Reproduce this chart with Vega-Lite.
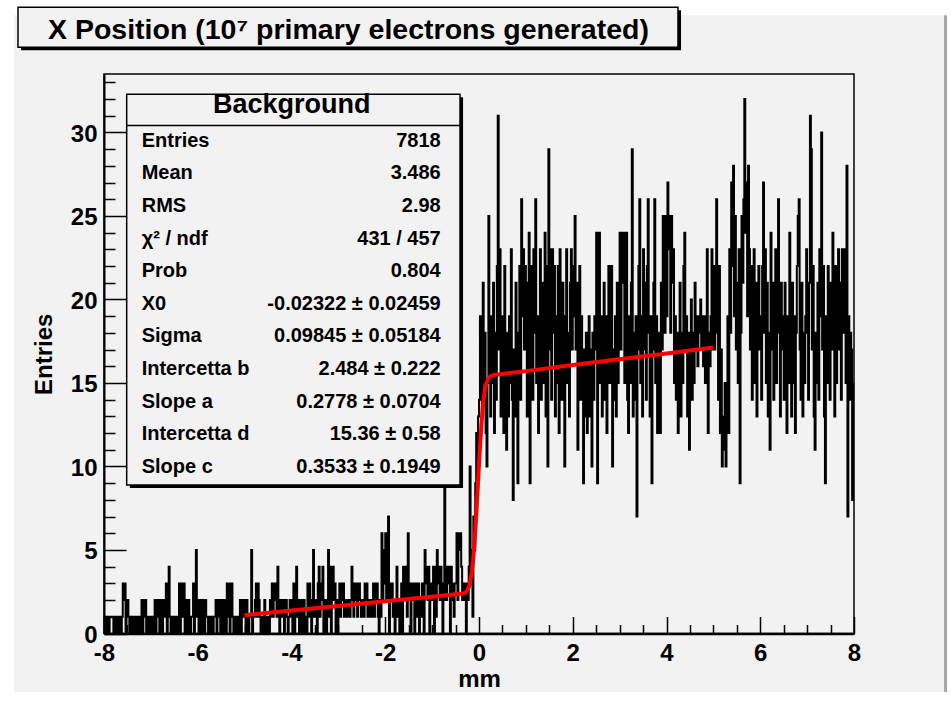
{
"$schema": "https://vega.github.io/schema/vega-lite/v6.json",
"width": 750, "height": 559.5, "autosize": "none",
"padding": {"left": 104, "top": 74, "right": 97, "bottom": 67.5},
"background": "#f2f2f2",
"config": {"view": {"stroke": "#000", "strokeWidth": 1.5, "fill": "#f2f2f2"}, "axis": {"grid": false, "labelFont": "Liberation Sans", "titleFont": "Liberation Sans", "labelColor": "#000", "titleColor": "#000", "tickColor": "#000", "domainColor": "#000"}, "text": {"font": "Liberation Sans"}},
"datasets": {
"hist": [
{"x":-7.99,"y":1},{"x":-7.97,"y":0},{"x":-7.95,"y":1},{"x":-7.93,"y":0},{"x":-7.91,"y":1},{"x":-7.89,"y":0},{"x":-7.87,"y":1},{"x":-7.85,"y":1},{"x":-7.83,"y":1},{"x":-7.81,"y":1},{"x":-7.79,"y":0},{"x":-7.77,"y":1},{"x":-7.75,"y":0},{"x":-7.73,"y":1},{"x":-7.71,"y":0},{"x":-7.69,"y":1},{"x":-7.67,"y":0},{"x":-7.65,"y":1},{"x":-7.63,"y":0},{"x":-7.61,"y":1},{"x":-7.59,"y":3},{"x":-7.57,"y":2},{"x":-7.55,"y":3},{"x":-7.53,"y":0},{"x":-7.51,"y":2},
{"x":-7.49,"y":2},{"x":-7.47,"y":1},{"x":-7.45,"y":0},{"x":-7.43,"y":1},{"x":-7.41,"y":0},{"x":-7.39,"y":1},{"x":-7.37,"y":1},{"x":-7.35,"y":0},{"x":-7.33,"y":1},{"x":-7.31,"y":0},{"x":-7.29,"y":1},{"x":-7.27,"y":0},{"x":-7.25,"y":1},{"x":-7.23,"y":1},{"x":-7.21,"y":0},{"x":-7.19,"y":2},{"x":-7.17,"y":0},{"x":-7.15,"y":2},{"x":-7.13,"y":1},{"x":-7.11,"y":2},{"x":-7.09,"y":0},{"x":-7.07,"y":1},{"x":-7.05,"y":0},{"x":-7.03,"y":1},{"x":-7.01,"y":1},
{"x":-6.99,"y":0},{"x":-6.97,"y":1},{"x":-6.95,"y":0},{"x":-6.93,"y":1},{"x":-6.91,"y":2},{"x":-6.89,"y":0},{"x":-6.87,"y":2},{"x":-6.85,"y":1},{"x":-6.83,"y":2},{"x":-6.81,"y":0},{"x":-6.79,"y":1},{"x":-6.77,"y":2},{"x":-6.75,"y":0},{"x":-6.73,"y":2},{"x":-6.71,"y":1},{"x":-6.69,"y":2},{"x":-6.67,"y":3},{"x":-6.65,"y":0},{"x":-6.63,"y":2},{"x":-6.61,"y":4},{"x":-6.59,"y":1},{"x":-6.57,"y":0},{"x":-6.55,"y":1},{"x":-6.53,"y":0},{"x":-6.51,"y":1},
{"x":-6.49,"y":1},{"x":-6.47,"y":0},{"x":-6.45,"y":1},{"x":-6.43,"y":0},{"x":-6.41,"y":1},{"x":-6.39,"y":3},{"x":-6.37,"y":0},{"x":-6.35,"y":2},{"x":-6.33,"y":3},{"x":-6.31,"y":1},{"x":-6.29,"y":3},{"x":-6.27,"y":0},{"x":-6.25,"y":2},{"x":-6.23,"y":1},{"x":-6.21,"y":0},{"x":-6.19,"y":2},{"x":-6.17,"y":1},{"x":-6.15,"y":0},{"x":-6.13,"y":1},{"x":-6.11,"y":1},{"x":-6.09,"y":3},{"x":-6.07,"y":0},{"x":-6.05,"y":2},{"x":-6.03,"y":5},{"x":-6.01,"y":1},
{"x":-5.99,"y":2},{"x":-5.97,"y":0},{"x":-5.95,"y":1},{"x":-5.93,"y":2},{"x":-5.91,"y":0},{"x":-5.89,"y":2},{"x":-5.87,"y":1},{"x":-5.85,"y":0},{"x":-5.83,"y":2},{"x":-5.81,"y":1},{"x":-5.79,"y":1},{"x":-5.77,"y":0},{"x":-5.75,"y":1},{"x":-5.73,"y":0},{"x":-5.71,"y":1},{"x":-5.69,"y":1},{"x":-5.67,"y":0},{"x":-5.65,"y":1},{"x":-5.63,"y":1},{"x":-5.61,"y":2},{"x":-5.59,"y":0},{"x":-5.57,"y":2},{"x":-5.55,"y":1},{"x":-5.53,"y":2},{"x":-5.51,"y":0},
{"x":-5.49,"y":2},{"x":-5.47,"y":1},{"x":-5.45,"y":0},{"x":-5.43,"y":2},{"x":-5.41,"y":1},{"x":-5.39,"y":0},{"x":-5.37,"y":3},{"x":-5.35,"y":1},{"x":-5.33,"y":3},{"x":-5.31,"y":0},{"x":-5.29,"y":2},{"x":-5.27,"y":3},{"x":-5.25,"y":1},{"x":-5.23,"y":0},{"x":-5.21,"y":1},{"x":-5.19,"y":1},{"x":-5.17,"y":0},{"x":-5.15,"y":1},{"x":-5.13,"y":0},{"x":-5.11,"y":1},{"x":-5.09,"y":2},{"x":-5.07,"y":0},{"x":-5.05,"y":2},{"x":-5.03,"y":1},{"x":-5.01,"y":2},
{"x":-4.99,"y":1},{"x":-4.97,"y":0},{"x":-4.95,"y":2},{"x":-4.93,"y":1},{"x":-4.91,"y":0},{"x":-4.89,"y":1},{"x":-4.87,"y":1},{"x":-4.85,"y":5},{"x":-4.83,"y":0},{"x":-4.81,"y":1},{"x":-4.79,"y":1},{"x":-4.77,"y":2},{"x":-4.75,"y":3},{"x":-4.73,"y":1},{"x":-4.71,"y":3},{"x":-4.69,"y":2},{"x":-4.67,"y":1},{"x":-4.65,"y":0},{"x":-4.63,"y":1},{"x":-4.61,"y":1},{"x":-4.59,"y":0},{"x":-4.57,"y":2},{"x":-4.55,"y":1},{"x":-4.53,"y":0},{"x":-4.51,"y":1},
{"x":-4.49,"y":1},{"x":-4.47,"y":0},{"x":-4.45,"y":2},{"x":-4.43,"y":1},{"x":-4.41,"y":3},{"x":-4.39,"y":1},{"x":-4.37,"y":3},{"x":-4.35,"y":2},{"x":-4.33,"y":3},{"x":-4.31,"y":1},{"x":-4.29,"y":4},{"x":-4.27,"y":2},{"x":-4.25,"y":0},{"x":-4.23,"y":1},{"x":-4.21,"y":2},{"x":-4.19,"y":1},{"x":-4.17,"y":2},{"x":-4.15,"y":0},{"x":-4.13,"y":2},{"x":-4.11,"y":2},{"x":-4.09,"y":1},{"x":-4.07,"y":0},{"x":-4.05,"y":1},{"x":-4.03,"y":2},{"x":-4.01,"y":1},
{"x":-3.99,"y":2},{"x":-3.97,"y":0},{"x":-3.95,"y":3},{"x":-3.93,"y":0},{"x":-3.91,"y":2},{"x":-3.89,"y":4},{"x":-3.87,"y":1},{"x":-3.85,"y":2},{"x":-3.83,"y":0},{"x":-3.81,"y":1},{"x":-3.79,"y":2},{"x":-3.77,"y":0},{"x":-3.75,"y":1},{"x":-3.73,"y":2},{"x":-3.71,"y":0},{"x":-3.69,"y":1},{"x":-3.67,"y":0},{"x":-3.65,"y":3},{"x":-3.63,"y":1},{"x":-3.61,"y":3},{"x":-3.59,"y":2},{"x":-3.57,"y":0},{"x":-3.55,"y":2},{"x":-3.53,"y":5},{"x":-3.51,"y":1},
{"x":-3.49,"y":1},{"x":-3.47,"y":2},{"x":-3.45,"y":0},{"x":-3.43,"y":3},{"x":-3.41,"y":4},{"x":-3.39,"y":1},{"x":-3.37,"y":3},{"x":-3.35,"y":2},{"x":-3.33,"y":4},{"x":-3.31,"y":0},{"x":-3.29,"y":1},{"x":-3.27,"y":2},{"x":-3.25,"y":0},{"x":-3.23,"y":2},{"x":-3.21,"y":5},{"x":-3.19,"y":1},{"x":-3.17,"y":4},{"x":-3.15,"y":0},{"x":-3.13,"y":3},{"x":-3.11,"y":4},{"x":-3.09,"y":2},{"x":-3.07,"y":3},{"x":-3.05,"y":0},{"x":-3.03,"y":2},{"x":-3.01,"y":0},
{"x":-2.99,"y":2},{"x":-2.97,"y":3},{"x":-2.95,"y":1},{"x":-2.93,"y":3},{"x":-2.91,"y":2},{"x":-2.89,"y":3},{"x":-2.87,"y":1},{"x":-2.85,"y":2},{"x":-2.83,"y":1},{"x":-2.81,"y":2},{"x":-2.79,"y":1},{"x":-2.77,"y":2},{"x":-2.75,"y":1},{"x":-2.73,"y":2},{"x":-2.71,"y":4},{"x":-2.69,"y":2},{"x":-2.67,"y":1},{"x":-2.65,"y":3},{"x":-2.63,"y":2},{"x":-2.61,"y":3},{"x":-2.59,"y":1},{"x":-2.57,"y":2},{"x":-2.55,"y":3},{"x":-2.53,"y":2},{"x":-2.51,"y":1},
{"x":-2.49,"y":1},{"x":-2.47,"y":2},{"x":-2.45,"y":1},{"x":-2.43,"y":3},{"x":-2.41,"y":2},{"x":-2.39,"y":3},{"x":-2.37,"y":1},{"x":-2.35,"y":2},{"x":-2.33,"y":2},{"x":-2.31,"y":1},{"x":-2.29,"y":2},{"x":-2.27,"y":1},{"x":-2.25,"y":3},{"x":-2.23,"y":1},{"x":-2.21,"y":3},{"x":-2.19,"y":2},{"x":-2.17,"y":3},{"x":-2.15,"y":1},{"x":-2.13,"y":0},{"x":-2.11,"y":2},{"x":-2.09,"y":1},{"x":-2.07,"y":6},{"x":-2.05,"y":2},{"x":-2.03,"y":5},{"x":-2.01,"y":3},
{"x":-1.99,"y":6},{"x":-1.97,"y":2},{"x":-1.95,"y":4},{"x":-1.93,"y":7},{"x":-1.91,"y":0},{"x":-1.89,"y":3},{"x":-1.87,"y":2},{"x":-1.85,"y":3},{"x":-1.83,"y":1},{"x":-1.81,"y":2},{"x":-1.79,"y":0},{"x":-1.77,"y":2},{"x":-1.75,"y":4},{"x":-1.73,"y":1},{"x":-1.71,"y":2},{"x":-1.69,"y":0},{"x":-1.67,"y":2},{"x":-1.65,"y":3},{"x":-1.63,"y":0},{"x":-1.61,"y":4},{"x":-1.59,"y":2},{"x":-1.57,"y":3},{"x":-1.55,"y":4},{"x":-1.53,"y":1},{"x":-1.51,"y":6},
{"x":-1.49,"y":2},{"x":-1.47,"y":3},{"x":-1.45,"y":0},{"x":-1.43,"y":2},{"x":-1.41,"y":3},{"x":-1.39,"y":2},{"x":-1.37,"y":0},{"x":-1.35,"y":3},{"x":-1.33,"y":2},{"x":-1.31,"y":1},{"x":-1.29,"y":3},{"x":-1.27,"y":0},{"x":-1.25,"y":1},{"x":-1.23,"y":2},{"x":-1.21,"y":3},{"x":-1.19,"y":1},{"x":-1.17,"y":0},{"x":-1.15,"y":5},{"x":-1.13,"y":3},{"x":-1.11,"y":4},{"x":-1.09,"y":2},{"x":-1.07,"y":4},{"x":-1.05,"y":0},{"x":-1.03,"y":3},{"x":-1.01,"y":2},
{"x":-0.99,"y":3},{"x":-0.97,"y":4},{"x":-0.95,"y":0},{"x":-0.93,"y":4},{"x":-0.91,"y":1},{"x":-0.89,"y":5},{"x":-0.87,"y":3},{"x":-0.85,"y":4},{"x":-0.83,"y":2},{"x":-0.81,"y":4},{"x":-0.79,"y":3},{"x":-0.77,"y":0},{"x":-0.75,"y":2},{"x":-0.73,"y":9},{"x":-0.71,"y":3},{"x":-0.69,"y":2},{"x":-0.67,"y":4},{"x":-0.65,"y":3},{"x":-0.63,"y":4},{"x":-0.61,"y":0},{"x":-0.59,"y":4},{"x":-0.57,"y":2},{"x":-0.55,"y":3},{"x":-0.53,"y":1},{"x":-0.51,"y":3},
{"x":-0.49,"y":3},{"x":-0.47,"y":6},{"x":-0.45,"y":2},{"x":-0.43,"y":6},{"x":-0.41,"y":5},{"x":-0.39,"y":6},{"x":-0.37,"y":4},{"x":-0.35,"y":2},{"x":-0.33,"y":3},{"x":-0.31,"y":2},{"x":-0.29,"y":3},{"x":-0.27,"y":0},{"x":-0.25,"y":3},{"x":-0.23,"y":2},{"x":-0.21,"y":4},{"x":-0.19,"y":10},{"x":-0.17,"y":3},{"x":-0.15,"y":5},{"x":-0.13,"y":1},{"x":-0.11,"y":7},{"x":-0.09,"y":5},{"x":-0.07,"y":9},{"x":-0.05,"y":12},{"x":-0.03,"y":10},{"x":-0.01,"y":13},
{"x":0.01,"y":14},{"x":0.03,"y":19},{"x":0.05,"y":17},{"x":0.07,"y":13},{"x":0.09,"y":21},{"x":0.11,"y":15},{"x":0.13,"y":18},{"x":0.15,"y":12},{"x":0.17,"y":10},{"x":0.19,"y":15},{"x":0.21,"y":25},{"x":0.23,"y":17},{"x":0.25,"y":13},{"x":0.27,"y":19},{"x":0.29,"y":15},{"x":0.31,"y":21},{"x":0.33,"y":12},{"x":0.35,"y":18},{"x":0.37,"y":14},{"x":0.39,"y":22},{"x":0.41,"y":31},{"x":0.43,"y":17},{"x":0.45,"y":23},{"x":0.47,"y":13},{"x":0.49,"y":19},
{"x":0.51,"y":15},{"x":0.53,"y":12},{"x":0.55,"y":22},{"x":0.57,"y":14},{"x":0.59,"y":11},{"x":0.61,"y":18},{"x":0.63,"y":13},{"x":0.65,"y":19},{"x":0.67,"y":15},{"x":0.69,"y":23},{"x":0.71,"y":14},{"x":0.73,"y":8},{"x":0.75,"y":17},{"x":0.77,"y":13},{"x":0.79,"y":21},{"x":0.81,"y":15},{"x":0.83,"y":9},{"x":0.85,"y":18},{"x":0.87,"y":22},{"x":0.89,"y":14},{"x":0.91,"y":26},{"x":0.93,"y":19},{"x":0.95,"y":23},{"x":0.97,"y":17},{"x":0.99,"y":22},
{"x":1.01,"y":18},{"x":1.03,"y":13},{"x":1.05,"y":21},{"x":1.07,"y":24},{"x":1.09,"y":9},{"x":1.11,"y":17},{"x":1.13,"y":22},{"x":1.15,"y":14},{"x":1.17,"y":23},{"x":1.19,"y":18},{"x":1.21,"y":26},{"x":1.23,"y":15},{"x":1.25,"y":19},{"x":1.27,"y":12},{"x":1.29,"y":17},{"x":1.31,"y":23},{"x":1.33,"y":14},{"x":1.35,"y":21},{"x":1.37,"y":15},{"x":1.39,"y":18},{"x":1.41,"y":24},{"x":1.43,"y":13},{"x":1.45,"y":22},{"x":1.47,"y":10},{"x":1.49,"y":29},
{"x":1.51,"y":17},{"x":1.53,"y":23},{"x":1.55,"y":14},{"x":1.57,"y":23},{"x":1.59,"y":18},{"x":1.61,"y":22},{"x":1.63,"y":13},{"x":1.65,"y":19},{"x":1.67,"y":15},{"x":1.69,"y":22},{"x":1.71,"y":12},{"x":1.73,"y":23},{"x":1.75,"y":18},{"x":1.77,"y":14},{"x":1.79,"y":21},{"x":1.81,"y":17},{"x":1.83,"y":10},{"x":1.85,"y":19},{"x":1.87,"y":23},{"x":1.89,"y":15},{"x":1.91,"y":18},{"x":1.93,"y":13},{"x":1.95,"y":21},{"x":1.97,"y":23},{"x":1.99,"y":17},
{"x":2.01,"y":19},{"x":2.03,"y":22},{"x":2.05,"y":25},{"x":2.07,"y":17},{"x":2.09,"y":21},{"x":2.11,"y":11},{"x":2.13,"y":18},{"x":2.15,"y":22},{"x":2.17,"y":14},{"x":2.19,"y":19},{"x":2.21,"y":15},{"x":2.23,"y":9},{"x":2.25,"y":17},{"x":2.27,"y":13},{"x":2.29,"y":18},{"x":2.31,"y":12},{"x":2.33,"y":15},{"x":2.35,"y":19},{"x":2.37,"y":13},{"x":2.39,"y":17},{"x":2.41,"y":10},{"x":2.43,"y":18},{"x":2.45,"y":14},{"x":2.47,"y":19},{"x":2.49,"y":17},
{"x":2.51,"y":24},{"x":2.53,"y":9},{"x":2.55,"y":19},{"x":2.57,"y":24},{"x":2.59,"y":15},{"x":2.61,"y":19},{"x":2.63,"y":13},{"x":2.65,"y":18},{"x":2.67,"y":21},{"x":2.69,"y":14},{"x":2.71,"y":19},{"x":2.73,"y":12},{"x":2.75,"y":17},{"x":2.77,"y":22},{"x":2.79,"y":15},{"x":2.81,"y":18},{"x":2.83,"y":22},{"x":2.85,"y":10},{"x":2.87,"y":17},{"x":2.89,"y":14},{"x":2.91,"y":19},{"x":2.93,"y":13},{"x":2.95,"y":21},{"x":2.97,"y":15},{"x":2.99,"y":18},
{"x":3.01,"y":24},{"x":3.03,"y":17},{"x":3.05,"y":24},{"x":3.07,"y":21},{"x":3.09,"y":24},{"x":3.11,"y":15},{"x":3.13,"y":23},{"x":3.15,"y":24},{"x":3.17,"y":14},{"x":3.19,"y":12},{"x":3.21,"y":19},{"x":3.23,"y":15},{"x":3.25,"y":21},{"x":3.27,"y":29},{"x":3.29,"y":13},{"x":3.31,"y":18},{"x":3.33,"y":14},{"x":3.35,"y":19},{"x":3.37,"y":7},{"x":3.39,"y":17},{"x":3.41,"y":22},{"x":3.43,"y":26},{"x":3.45,"y":15},{"x":3.47,"y":19},{"x":3.49,"y":13},
{"x":3.51,"y":23},{"x":3.53,"y":17},{"x":3.55,"y":21},{"x":3.57,"y":14},{"x":3.59,"y":22},{"x":3.61,"y":26},{"x":3.63,"y":18},{"x":3.65,"y":13},{"x":3.67,"y":19},{"x":3.69,"y":9},{"x":3.71,"y":17},{"x":3.73,"y":21},{"x":3.75,"y":26},{"x":3.77,"y":15},{"x":3.79,"y":19},{"x":3.81,"y":12},{"x":3.83,"y":18},{"x":3.85,"y":14},{"x":3.87,"y":12},{"x":3.89,"y":21},{"x":3.91,"y":17},{"x":3.93,"y":25},{"x":3.95,"y":22},{"x":3.97,"y":18},{"x":3.99,"y":25},
{"x":4.01,"y":19},{"x":4.03,"y":27},{"x":4.05,"y":23},{"x":4.07,"y":25},{"x":4.09,"y":18},{"x":4.11,"y":25},{"x":4.13,"y":21},{"x":4.15,"y":23},{"x":4.17,"y":15},{"x":4.19,"y":19},{"x":4.21,"y":14},{"x":4.23,"y":18},{"x":4.25,"y":12},{"x":4.27,"y":17},{"x":4.29,"y":21},{"x":4.31,"y":13},{"x":4.33,"y":18},{"x":4.35,"y":15},{"x":4.37,"y":22},{"x":4.39,"y":24},{"x":4.41,"y":17},{"x":4.43,"y":19},{"x":4.45,"y":13},{"x":4.47,"y":18},{"x":4.49,"y":11},
{"x":4.51,"y":16},{"x":4.53,"y":20},{"x":4.55,"y":14},{"x":4.57,"y":18},{"x":4.59,"y":15},{"x":4.61,"y":21},{"x":4.63,"y":17},{"x":4.65,"y":19},{"x":4.67,"y":16},{"x":4.69,"y":19},{"x":4.71,"y":18},{"x":4.73,"y":20},{"x":4.75,"y":17},{"x":4.77,"y":19},{"x":4.79,"y":16},{"x":4.81,"y":19},{"x":4.83,"y":15},{"x":4.85,"y":19},{"x":4.87,"y":23},{"x":4.89,"y":12},{"x":4.91,"y":18},{"x":4.93,"y":16},{"x":4.95,"y":19},{"x":4.97,"y":23},{"x":4.99,"y":17},
{"x":5.01,"y":22},{"x":5.03,"y":17},{"x":5.05,"y":21},{"x":5.07,"y":26},{"x":5.09,"y":18},{"x":5.11,"y":14},{"x":5.13,"y":22},{"x":5.15,"y":12},{"x":5.17,"y":17},{"x":5.19,"y":10},{"x":5.21,"y":13},{"x":5.23,"y":11},{"x":5.25,"y":15},{"x":5.27,"y":10},{"x":5.29,"y":14},{"x":5.31,"y":19},{"x":5.33,"y":12},{"x":5.35,"y":23},{"x":5.37,"y":18},{"x":5.39,"y":27},{"x":5.41,"y":22},{"x":5.43,"y":28},{"x":5.45,"y":19},{"x":5.47,"y":25},{"x":5.49,"y":17},
{"x":5.51,"y":21},{"x":5.53,"y":15},{"x":5.55,"y":23},{"x":5.57,"y":9},{"x":5.59,"y":18},{"x":5.61,"y":25},{"x":5.63,"y":21},{"x":5.65,"y":26},{"x":5.67,"y":32},{"x":5.69,"y":24},{"x":5.71,"y":27},{"x":5.73,"y":19},{"x":5.75,"y":28},{"x":5.77,"y":23},{"x":5.79,"y":17},{"x":5.81,"y":22},{"x":5.83,"y":14},{"x":5.85,"y":19},{"x":5.87,"y":23},{"x":5.89,"y":15},{"x":5.91,"y":21},{"x":5.93,"y":13},{"x":5.95,"y":18},{"x":5.97,"y":22},{"x":5.99,"y":17},
{"x":6.01,"y":19},{"x":6.03,"y":14},{"x":6.05,"y":22},{"x":6.07,"y":27},{"x":6.09,"y":18},{"x":6.11,"y":23},{"x":6.13,"y":15},{"x":6.15,"y":21},{"x":6.17,"y":13},{"x":6.19,"y":18},{"x":6.21,"y":11},{"x":6.23,"y":24},{"x":6.25,"y":17},{"x":6.27,"y":21},{"x":6.29,"y":14},{"x":6.31,"y":19},{"x":6.33,"y":23},{"x":6.35,"y":15},{"x":6.37,"y":22},{"x":6.39,"y":26},{"x":6.41,"y":18},{"x":6.43,"y":13},{"x":6.45,"y":21},{"x":6.47,"y":17},{"x":6.49,"y":19},
{"x":6.51,"y":14},{"x":6.53,"y":21},{"x":6.55,"y":17},{"x":6.57,"y":12},{"x":6.59,"y":19},{"x":6.61,"y":15},{"x":6.63,"y":24},{"x":6.65,"y":18},{"x":6.67,"y":13},{"x":6.69,"y":21},{"x":6.71,"y":15},{"x":6.73,"y":19},{"x":6.75,"y":12},{"x":6.77,"y":18},{"x":6.79,"y":22},{"x":6.81,"y":25},{"x":6.83,"y":26},{"x":6.85,"y":17},{"x":6.87,"y":14},{"x":6.89,"y":21},{"x":6.91,"y":13},{"x":6.93,"y":18},{"x":6.95,"y":15},{"x":6.97,"y":19},{"x":6.99,"y":23},
{"x":7.01,"y":18},{"x":7.03,"y":14},{"x":7.05,"y":21},{"x":7.07,"y":31},{"x":7.09,"y":29},{"x":7.11,"y":17},{"x":7.13,"y":22},{"x":7.15,"y":13},{"x":7.17,"y":11},{"x":7.19,"y":18},{"x":7.21,"y":15},{"x":7.23,"y":21},{"x":7.25,"y":14},{"x":7.27,"y":23},{"x":7.29,"y":19},{"x":7.31,"y":30},{"x":7.33,"y":17},{"x":7.35,"y":22},{"x":7.37,"y":13},{"x":7.39,"y":9},{"x":7.41,"y":19},{"x":7.43,"y":15},{"x":7.45,"y":22},{"x":7.47,"y":18},{"x":7.49,"y":14},
{"x":7.51,"y":21},{"x":7.53,"y":17},{"x":7.55,"y":24},{"x":7.57,"y":19},{"x":7.59,"y":13},{"x":7.61,"y":22},{"x":7.63,"y":15},{"x":7.65,"y":19},{"x":7.67,"y":23},{"x":7.69,"y":17},{"x":7.71,"y":21},{"x":7.73,"y":14},{"x":7.75,"y":23},{"x":7.77,"y":18},{"x":7.79,"y":22},{"x":7.81,"y":23},{"x":7.83,"y":15},{"x":7.85,"y":28},{"x":7.87,"y":7},{"x":7.89,"y":19},{"x":7.91,"y":14},{"x":7.93,"y":18},{"x":7.95,"y":17},{"x":7.97,"y":8},{"x":7.99,"y":15}
],
"fit": [
{"x":-5,"y":1.095},{"x":-4,"y":1.373},{"x":-3,"y":1.651},{"x":-2,"y":1.928},{"x":-1,"y":2.206},{"x":-0.5,"y":2.345},{"x":-0.35,"y":2.39},{"x":-0.3,"y":2.43},{"x":-0.25,"y":2.55},{"x":-0.2,"y":2.9},{"x":-0.15,"y":3.71},{"x":-0.125,"y":4.39},{"x":-0.1,"y":5.26},{"x":-0.075,"y":6.32},{"x":-0.05,"y":7.53},{"x":-0.025,"y":8.82},{"x":0,"y":10.12},{"x":0.025,"y":11.35},{"x":0.05,"y":12.43},{"x":0.075,"y":13.33},{"x":0.1,"y":14.04},{"x":0.125,"y":14.56},{"x":0.15,"y":14.91},{"x":0.2,"y":15.28},{"x":0.25,"y":15.41},{"x":0.3,"y":15.47},{"x":0.5,"y":15.54},{"x":1,"y":15.71},{"x":2,"y":16.07},{"x":3,"y":16.42},{"x":4,"y":16.77},{"x":5,"y":17.13}
],
"stats": [
{"k":0,"name":"Entries","value":"7818"},
{"k":1,"name":"Mean","value":"3.486"},
{"k":2,"name":"RMS","value":"2.98"},
{"k":3,"name":"χ² / ndf","value":"431 / 457"},
{"k":4,"name":"Prob","value":"0.804"},
{"k":5,"name":"X0","value":"-0.02322 ± 0.02459"},
{"k":6,"name":"Sigma","value":"0.09845 ± 0.05184"},
{"k":7,"name":"Intercetta b","value":"2.484 ± 0.222"},
{"k":8,"name":"Slope a","value":"0.2778 ± 0.0704"},
{"k":9,"name":"Intercetta d","value":"15.36 ± 0.58"},
{"k":10,"name":"Slope c","value":"0.3533 ± 0.1949"}
]
},
"layer": [
{
"layer": [
{"data": {"name": "hist"}, "mark": {"type": "line", "interpolate": "step", "color": "#000", "strokeWidth": 2},
 "encoding": {
  "x": {"field": "x", "type": "quantitative", "scale": {"domain": [-8, 8], "nice": false, "zero": false},
   "axis": {"orient": "bottom", "values": [-8, -6, -4, -2, 0, 2, 4, 6, 8], "labelExpr": "toString(datum.value)", "labelFontSize": 24, "labelFontWeight": "bold", "labelPadding": 25, "labelFlush": false, "labelOverlap": false, "labelBound": false, "tickSize": -17, "tickWidth": 1.5, "domainWidth": 2.5, "title": "mm", "titleFontSize": 24, "titleFontWeight": "bold", "titlePadding": 2}},
  "y": {"field": "y", "type": "quantitative", "scale": {"domain": [0, 33.5], "nice": false, "zero": false},
   "axis": {"orient": "left", "values": [0, 5, 10, 15, 20, 25, 30], "labelExpr": "toString(datum.value)", "labelFontSize": 24, "labelFontWeight": "bold", "labelPadding": 29, "labelFlush": false, "labelOverlap": false, "labelBound": false, "labelOffset": 2, "tickSize": -22, "tickWidth": 1.5, "domainWidth": 2, "title": "Entries", "titleFontSize": 24, "titleFontWeight": "bold", "titlePadding": 14}}
 }},
{"data": {"name": "fit"}, "mark": {"type": "line", "color": "#ff0000", "strokeWidth": 4},
 "encoding": {
  "x": {"field": "x", "type": "quantitative", "scale": {"domain": [-8, 8], "nice": false, "zero": false},
   "axis": {"orient": "bottom", "values": [-7.5, -7, -6.5, -5.5, -5, -4.5, -3.5, -3, -2.5, -1.5, -1, -0.5, 0.5, 1, 1.5, 2.5, 3, 3.5, 4.5, 5, 5.5, 6.5, 7, 7.5], "labels": false, "domain": false, "title": null, "tickSize": -9, "tickWidth": 1.5}},
  "y": {"field": "y", "type": "quantitative", "scale": {"domain": [0, 33.5], "nice": false, "zero": false},
   "axis": {"orient": "left", "values": [1, 2, 3, 4, 6, 7, 8, 9, 11, 12, 13, 14, 16, 17, 18, 19, 21, 22, 23, 24, 26, 27, 28, 29, 31, 32, 33], "labels": false, "domain": false, "title": null, "tickSize": -11, "tickWidth": 1.5}}
 }},
{"data": {"values": [{}]}, "mark": {"type": "rect", "fill": "#ffffff"},
 "encoding": {"x": {"datum": -10.5, "type": "quantitative", "axis": null}, "x2": {"datum": -9.92}, "y": {"datum": -4.5, "type": "quantitative", "axis": null}, "y2": {"datum": 38.5}}},
{"data": {"values": [{}]}, "mark": {"type": "rect", "fill": "#ffffff"},
 "encoding": {"x": {"datum": -10.5, "type": "quantitative", "axis": null}, "x2": {"datum": 10.5}, "y": {"datum": 37.02, "type": "quantitative", "axis": null}, "y2": {"datum": 38.5}}},
{"data": {"values": [{}]}, "mark": {"type": "rect", "fill": "#ffffff"},
 "encoding": {"x": {"datum": -10.5, "type": "quantitative", "axis": null}, "x2": {"datum": 10.5}, "y": {"datum": -4.5, "type": "quantitative", "axis": null}, "y2": {"datum": -3.5}}},
{"data": {"values": [{}]}, "mark": {"type": "rect", "fill": "#ffffff"},
 "encoding": {"x": {"datum": 9.985, "type": "quantitative", "axis": null}, "x2": {"datum": 10.5}, "y": {"datum": -4.5, "type": "quantitative", "axis": null}, "y2": {"datum": 38.5}}},
{"data": {"values": [{}]}, "mark": {"type": "rect", "fill": "#a8a8a8"},
 "encoding": {"x": {"datum": 9.92, "type": "quantitative", "axis": null}, "x2": {"datum": 9.985}, "y": {"datum": -3.5, "type": "quantitative", "axis": null}, "y2": {"datum": 37.02}}},
{"data": {"values": [{}]}, "mark": {"type": "rect", "fill": "#000"},
 "encoding": {"x": {"datum": -9.77, "type": "quantitative", "axis": null}, "x2": {"datum": 4.31}, "y": {"datum": 37.31, "type": "quantitative", "axis": null}, "y2": {"datum": 34.92}}},
{"data": {"values": [{}]}, "mark": {"type": "rect", "fill": "#f2f2f2", "stroke": "#000", "strokeWidth": 1.5},
 "encoding": {"x": {"datum": -9.835, "type": "quantitative", "axis": null}, "x2": {"datum": 4.245}, "y": {"datum": 37.49, "type": "quantitative", "axis": null}, "y2": {"datum": 35.1}}},
{"data": {"values": [{}]}, "mark": {"type": "text", "align": "left", "baseline": "middle", "fontSize": 28.5, "fontWeight": "bold", "color": "#000"},
 "encoding": {"x": {"datum": -9.195, "type": "quantitative", "axis": null}, "y": {"datum": 36.15, "type": "quantitative", "axis": null}, "text": {"value": "X Position (10⁷ primary electrons generated)"}}},
{"data": {"values": [{}]}, "mark": {"type": "rect", "fill": "#000"},
 "encoding": {"x": {"datum": -7.45, "type": "quantitative", "axis": null}, "x2": {"datum": -0.34}, "y": {"datum": 32.11, "type": "quantitative", "axis": null}, "y2": {"datum": 8.707}}},
{"data": {"values": [{}]}, "mark": {"type": "rect", "fill": "#f2f2f2", "stroke": "#000", "strokeWidth": 1.5},
 "encoding": {"x": {"datum": -7.516, "type": "quantitative", "axis": null}, "x2": {"datum": -0.405}, "y": {"datum": 32.29, "type": "quantitative", "axis": null}, "y2": {"datum": 8.887}}},
{"data": {"values": [{}]}, "mark": {"type": "rule", "color": "#000", "strokeWidth": 1.5},
 "encoding": {"x": {"datum": -7.516, "type": "quantitative", "axis": null}, "x2": {"datum": -0.405}, "y": {"datum": 30.41, "type": "quantitative", "axis": null}}},
{"data": {"values": [{}]}, "mark": {"type": "text", "align": "center", "baseline": "middle", "fontSize": 27, "fontWeight": "bold", "color": "#000"},
 "encoding": {"x": {"datum": -3.996, "type": "quantitative", "axis": null}, "y": {"datum": 31.63, "type": "quantitative", "axis": null}, "text": {"value": "Background"}}}
],
"resolve": {"axis": {"x": "independent", "y": "independent"}}
},
{
"data": {"name": "stats"},
"encoding": {"y": {"field": "k", "type": "quantitative", "scale": {"domain": [0, 10], "range": [66.7, 392.7]}, "axis": null}},
"layer": [
{"mark": {"type": "text", "align": "left", "baseline": "middle", "fontSize": 20, "fontWeight": "bold", "color": "#000"},
 "encoding": {"x": {"datum": -7.196, "type": "quantitative", "axis": null}, "text": {"field": "name"}}},
{"mark": {"type": "text", "align": "right", "baseline": "middle", "fontSize": 20, "fontWeight": "bold", "color": "#000"},
 "encoding": {"x": {"datum": -0.817, "type": "quantitative", "axis": null}, "text": {"field": "value"}}}
]
}
],
"resolve": {"scale": {"y": "independent"}}
}
